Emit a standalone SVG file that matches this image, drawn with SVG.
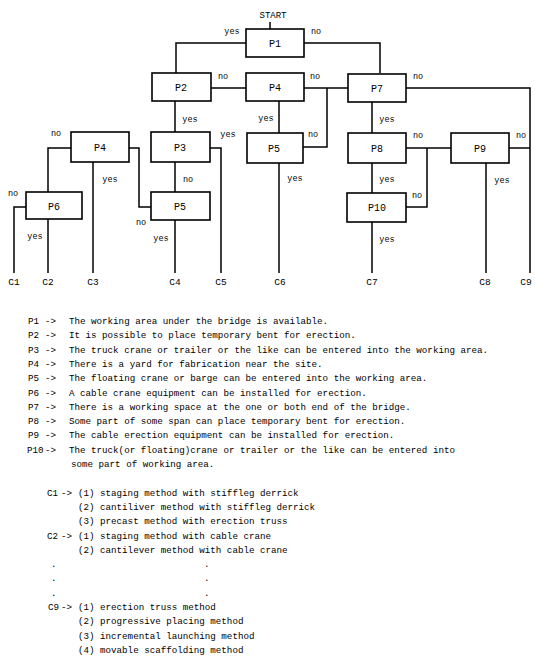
<svg xmlns="http://www.w3.org/2000/svg" width="535" height="661" viewBox="0 0 535 661">
<style>
.box{fill:#fff;stroke:#000;stroke-width:1.6}
.ln{fill:none;stroke:#000;stroke-width:1.5}
.nl{font-family:"Liberation Mono",monospace;font-size:10px;fill:#000;text-anchor:middle}
.yn{font-family:"Liberation Mono",monospace;font-size:8.5px;fill:#000;text-anchor:middle}
.cl{font-family:"Liberation Mono",monospace;font-size:9.5px;fill:#000;text-anchor:middle}
.t{font-family:"Liberation Mono",monospace;font-size:9.2px;fill:#000}
</style>
<rect width="535" height="661" fill="#fff"/>
<g id="connectors">
<polyline class="ln" points="270,22 270,29"/>
<polyline class="ln" points="246,43 176,43 176,73"/>
<polyline class="ln" points="304,43 380,43 380,73"/>
<polyline class="ln" points="211,88 246,88"/>
<polyline class="ln" points="304,88 348,88"/>
<polyline class="ln" points="327,88 327,147 303,147"/>
<polyline class="ln" points="406,88 530,88 530,273"/>
<polyline class="ln" points="175,101 175,133"/>
<polyline class="ln" points="279,101 279,133"/>
<polyline class="ln" points="372,102 372,133"/>
<polyline class="ln" points="210,148 221,148 221,273"/>
<polyline class="ln" points="175,162 175,192"/>
<polyline class="ln" points="175,220 175,273"/>
<polyline class="ln" points="129,148 139,148 139,207 151,207"/>
<polyline class="ln" points="71,148 48,148 48,192"/>
<polyline class="ln" points="93,162 93,273"/>
<polyline class="ln" points="26,207 14,207 14,273"/>
<polyline class="ln" points="48,219 48,273"/>
<polyline class="ln" points="279,163 279,273"/>
<polyline class="ln" points="406,148 451,148"/>
<polyline class="ln" points="427,148 427,207 406,207"/>
<polyline class="ln" points="509,148 530,148"/>
<polyline class="ln" points="486,163 486,273"/>
<polyline class="ln" points="372,163 372,193"/>
<polyline class="ln" points="372,222 372,273"/>
<text class="yn" x="232" y="34">yes</text>
<text class="yn" x="316" y="34">no</text>
<text class="yn" x="223" y="79">no</text>
<text class="yn" x="315" y="79">no</text>
<text class="yn" x="418" y="79">no</text>
<text class="yn" x="190" y="122">yes</text>
<text class="yn" x="266" y="121">yes</text>
<text class="yn" x="387" y="122">yes</text>
<text class="yn" x="228" y="137">yes</text>
<text class="yn" x="56" y="136">no</text>
<text class="yn" x="313" y="137">no</text>
<text class="yn" x="418" y="138">no</text>
<text class="yn" x="521" y="138">no</text>
<text class="yn" x="110" y="182">yes</text>
<text class="yn" x="188" y="182">no</text>
<text class="yn" x="295" y="181">yes</text>
<text class="yn" x="387" y="182">yes</text>
<text class="yn" x="502" y="183">yes</text>
<text class="yn" x="13" y="196">no</text>
<text class="yn" x="417" y="198">no</text>
<text class="yn" x="141" y="225">no</text>
<text class="yn" x="35" y="239">yes</text>
<text class="yn" x="161" y="241">yes</text>
<text class="yn" x="387" y="242">yes</text>
</g>
<g id="start"><text class="nl" x="273" y="18" style="font-size:9px">START</text></g>
<g id="P1"><rect class="box" x="246" y="29" width="58" height="28"/><text class="nl" x="275" y="47">P1</text></g>
<g id="P2"><rect class="box" x="152" y="73" width="59" height="28"/><text class="nl" x="181" y="91">P2</text></g>
<g id="P4a"><rect class="box" x="246" y="73" width="58" height="28"/><text class="nl" x="275" y="91">P4</text></g>
<g id="P7"><rect class="box" x="348" y="74" width="58" height="28"/><text class="nl" x="377" y="92">P7</text></g>
<g id="P4b"><rect class="box" x="71" y="132" width="58" height="30"/><text class="nl" x="100" y="151">P4</text></g>
<g id="P3"><rect class="box" x="151" y="132" width="59" height="30"/><text class="nl" x="180" y="151">P3</text></g>
<g id="P5a"><rect class="box" x="247" y="133" width="56" height="30"/><text class="nl" x="274" y="152">P5</text></g>
<g id="P8"><rect class="box" x="348" y="133" width="58" height="30"/><text class="nl" x="377" y="152">P8</text></g>
<g id="P9"><rect class="box" x="451" y="133" width="58" height="30"/><text class="nl" x="480" y="152">P9</text></g>
<g id="P6"><rect class="box" x="26" y="192" width="56" height="27"/><text class="nl" x="54" y="210">P6</text></g>
<g id="P5b"><rect class="box" x="151" y="192" width="59" height="28"/><text class="nl" x="180" y="210">P5</text></g>
<g id="P10"><rect class="box" x="347" y="193" width="59" height="29"/><text class="nl" x="377" y="211">P10</text></g>
<g id="C1"><text class="cl" x="14" y="285">C1</text></g>
<g id="C2"><text class="cl" x="48" y="285">C2</text></g>
<g id="C3"><text class="cl" x="93" y="285">C3</text></g>
<g id="C4"><text class="cl" x="175" y="285">C4</text></g>
<g id="C5"><text class="cl" x="221" y="285">C5</text></g>
<g id="C6"><text class="cl" x="280" y="285">C6</text></g>
<g id="C7"><text class="cl" x="372" y="285">C7</text></g>
<g id="C8"><text class="cl" x="485" y="285">C8</text></g>
<g id="C9"><text class="cl" x="526" y="285">C9</text></g>
<g id="legend">
<text class="t" y="324"><tspan x="28">P1</tspan><tspan x="45">-&gt;</tspan><tspan x="69">The working area under the bridge is available.</tspan></text>
<text class="t" y="338.3"><tspan x="28">P2</tspan><tspan x="45">-&gt;</tspan><tspan x="69">It is possible to place temporary bent for erection.</tspan></text>
<text class="t" y="352.6"><tspan x="28">P3</tspan><tspan x="45">-&gt;</tspan><tspan x="69">The truck crane or trailer or the like can be entered into the working area.</tspan></text>
<text class="t" y="366.9"><tspan x="28">P4</tspan><tspan x="45">-&gt;</tspan><tspan x="69">There is a yard for fabrication near the site.</tspan></text>
<text class="t" y="381.2"><tspan x="28">P5</tspan><tspan x="45">-&gt;</tspan><tspan x="69">The floating crane or barge can be entered into the working area.</tspan></text>
<text class="t" y="395.5"><tspan x="28">P6</tspan><tspan x="45">-&gt;</tspan><tspan x="69">A cable crane equipment can be installed for erection.</tspan></text>
<text class="t" y="409.8"><tspan x="28">P7</tspan><tspan x="45">-&gt;</tspan><tspan x="69">There is a working space at the one or both end of the bridge.</tspan></text>
<text class="t" y="424.1"><tspan x="28">P8</tspan><tspan x="45">-&gt;</tspan><tspan x="69">Some part of some span can place temporary bent for erection.</tspan></text>
<text class="t" y="438.4"><tspan x="28">P9</tspan><tspan x="45">-&gt;</tspan><tspan x="69">The cable erection equipment can be installed for erection.</tspan></text>
<text class="t" y="452.7"><tspan x="27">P10</tspan><tspan x="45">-&gt;</tspan><tspan x="69">The truck(or floating)crane or trailer or the like can be entered into</tspan></text>
<text class="t" x="71" y="467">some part of working area.</text>
<text class="t" y="495.6"><tspan x="47">C1</tspan><tspan x="61">-&gt;</tspan><tspan x="78">(1) staging method with stiffleg derrick</tspan></text>
<text class="t" x="78" y="509.9">(2) cantiliver method with stiffleg derrick</text>
<text class="t" x="78" y="524.2">(3) precast method with erection truss</text>
<text class="t" y="538.5"><tspan x="47">C2</tspan><tspan x="61">-&gt;</tspan><tspan x="78">(1) staging method with cable crane</tspan></text>
<text class="t" x="78" y="552.8">(2) cantilever method with cable crane</text>
<text class="t" x="51" y="567.1">.</text><text class="t" x="204" y="567.1">.</text>
<text class="t" x="51" y="581.4">.</text><text class="t" x="204" y="581.4">.</text>
<text class="t" x="51" y="595.7">.</text><text class="t" x="204" y="595.7">.</text>
<text class="t" y="610"><tspan x="48">C9</tspan><tspan x="61">-&gt;</tspan><tspan x="78">(1) erection truss method</tspan></text>
<text class="t" x="78" y="624.3">(2) progressive placing method</text>
<text class="t" x="78" y="638.6">(3) incremental launching method</text>
<text class="t" x="78" y="652.9">(4) movable scaffolding method</text>
</g>
</svg>
